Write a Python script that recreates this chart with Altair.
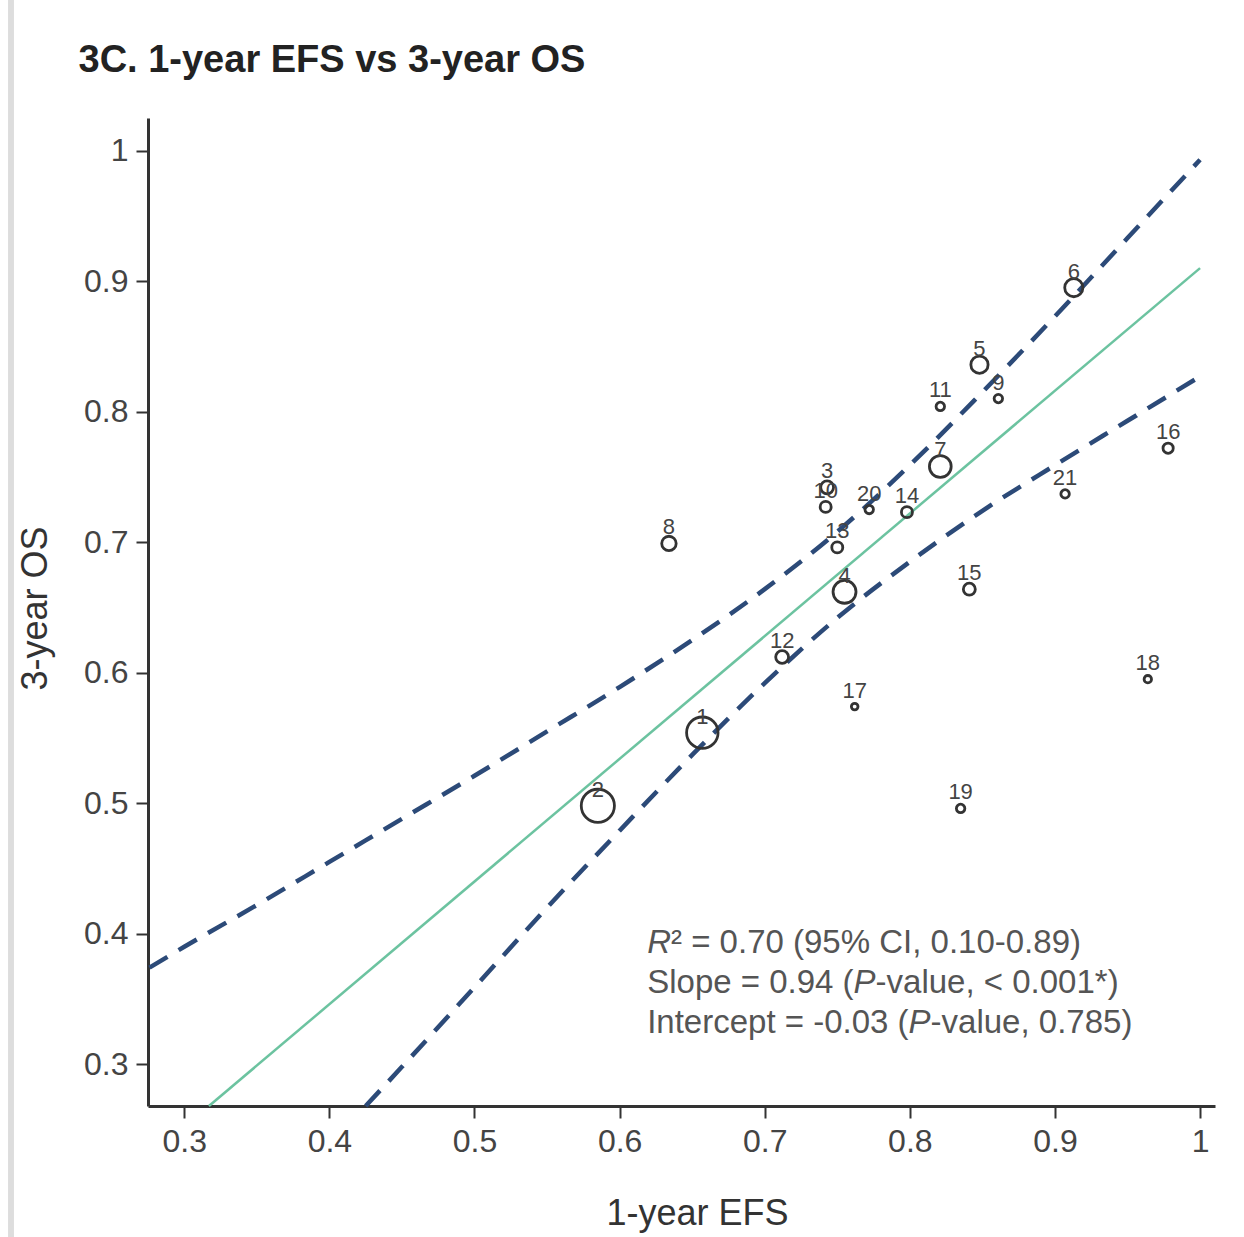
import altair as alt
import pandas as pd

# ---- data ----
study = [str(i) for i in range(1, 22)]
efs_1y = [0.657, 0.585, 0.743, 0.755, 0.848, 0.913, 0.821, 0.634, 0.861, 0.742, 0.821,
          0.712, 0.750, 0.798, 0.841, 0.978, 0.762, 0.964, 0.835, 0.772, 0.907]
os_3y = [0.554, 0.498, 0.742, 0.662, 0.836, 0.895, 0.758, 0.699, 0.810, 0.727, 0.804,
         0.612, 0.696, 0.723, 0.664, 0.772, 0.574, 0.595, 0.496, 0.725, 0.737]
weight = [90, 100, 15, 48, 27, 30, 43, 19, 6.5, 11, 6.5, 15, 11, 11, 13, 9.5, 4, 5, 6.5, 6.5, 6.5]

slope = 0.94
intercept = -0.03
fit_x = [0.317, 1.0]

ci_upper_x = [0.276, 0.30, 0.35, 0.40, 0.45, 0.50, 0.55, 0.60, 0.65, 0.70, 0.75, 0.80, 0.85, 0.90, 0.95, 1.00]
ci_upper_y = [0.374, 0.390, 0.422, 0.455, 0.488, 0.521, 0.555, 0.589, 0.625, 0.664, 0.708, 0.759, 0.815, 0.873, 0.933, 0.993]
ci_lower_x = [0.425, 0.45, 0.50, 0.55, 0.60, 0.65, 0.70, 0.75, 0.80, 0.85, 0.90, 0.95, 1.00]
ci_lower_y = [0.268, 0.298, 0.359, 0.420, 0.479, 0.537, 0.592, 0.642, 0.685, 0.724, 0.759, 0.793, 0.827]

x_ticks = [0.3, 0.4, 0.5, 0.6, 0.7, 0.8, 0.9, 1.0]
y_ticks = [0.3, 0.4, 0.5, 0.6, 0.7, 0.8, 0.9, 1.0]

ann_lines = [
    [("R", True), ("\u00b2 = 0.70 (95% CI, 0.10-0.89)", False)],
    [("Slope = 0.94 (", False), ("P", True), ("-value, < 0.001*)", False)],
    [("Intercept = -0.03 (", False), ("P", True), ("-value, 0.785)", False)],
]

# ---- tables ----
pts = pd.DataFrame({"study": study, "efs": efs_1y, "os": os_3y, "weight": weight})
fit = pd.DataFrame({"efs": fit_x, "os": [slope * v + intercept for v in fit_x]})
ci = pd.concat([
    pd.DataFrame({"efs": ci_upper_x, "os": ci_upper_y, "band": "upper"}),
    pd.DataFrame({"efs": ci_lower_x, "os": ci_lower_y, "band": "lower"}),
])

XD = [0.275, 1.0103]
YD = [0.268, 1.025]
xs = alt.Scale(domain=XD, nice=False, zero=False)
ys = alt.Scale(domain=YD, nice=False, zero=False)

fmt = "datum.value == 1 ? '1' : format(datum.value, '.1f')"
FONT = "Liberation Sans"

base = alt.Chart(pts)

ci_lines = alt.Chart(ci).mark_line(color="#2c4a78", strokeWidth=4.5, strokeDash=[21, 13],
                                   interpolate="monotone").encode(
    x=alt.X("efs:Q", scale=xs,
            axis=alt.Axis(values=x_ticks, labelExpr=fmt, title="1-year EFS",
                          titleX=549, titleY=107, titleBaseline="middle")),
    y=alt.Y("os:Q", scale=ys,
            axis=alt.Axis(values=y_ticks, labelExpr=fmt, title="3-year OS",
                          titleX=-113, titleY=490, titleBaseline="middle", titleAlign="center")),
    detail="band:N",
)

fit_line = alt.Chart(fit).mark_line(color="#6cc3a0", strokeWidth=2.5).encode(
    x=alt.X("efs:Q", scale=xs), y=alt.Y("os:Q", scale=ys))

circles = base.mark_point(shape="circle", filled=False, color="#333333", strokeWidth=2.8,
                          opacity=1).encode(
    x=alt.X("efs:Q", scale=xs), y=alt.Y("os:Q", scale=ys),
    size=alt.Size("weight:Q", scale=alt.Scale(domain=[0, 100], range=[0, 1100]), legend=None),
)

labels = base.mark_text(font=FONT, fontSize=22, color="#444444", dy=-16, baseline="middle").encode(
    x=alt.X("efs:Q", scale=xs), y=alt.Y("os:Q", scale=ys), text="study:N")

# annotation with italic pieces
W = {" ": .278, "(": .333, ")": .333, "*": .389, ",": .278, "-": .333, ".": .278, "<": .584,
     "=": .584, "%": .889, "C": .722, "I": .278, "P": .667, "R": .722, "S": .667, "a": .556,
     "c": .5, "e": .556, "l": .222, "n": .556, "o": .556, "p": .556, "r": .333, "t": .278,
     "u": .556, "v": .5, "\u00b2": .333}
for d in "0123456789":
    W[d] = .556

ANN_FS = 33
ann_x = 0.619
ann_y = [0.3928, 0.362, 0.3315]
ann_layers = []
for line, yv in zip(ann_lines, ann_y):
    off = 0.0
    for txt, ital in line:
        df = pd.DataFrame({"efs": [ann_x], "os": [yv], "t": [txt]})
        kw = dict(font=FONT, fontSize=ANN_FS, color="#555555", align="left", baseline="middle",
                  dx=off)
        if ital:
            kw["fontStyle"] = "italic"
        ann_layers.append(alt.Chart(df).mark_text(**kw).encode(
            x=alt.X("efs:Q", scale=xs), y=alt.Y("os:Q", scale=ys), text="t:N"))
        off += sum(W.get(ch, .556) for ch in txt) * ANN_FS

frame_bar = alt.Chart(pts).mark_rule(color="#dddddd", strokeWidth=5).encode(
    x=alt.value(-137), y=alt.value(-118), y2=alt.value(1119))

chart = alt.layer(frame_bar, ci_lines, fit_line, circles, labels, *ann_layers).properties(
    width=1067, height=988,
    title=alt.TitleParams("3C. 1-year EFS vs 3-year OS", anchor="start", fontSize=38,
                          fontWeight="bold", font=FONT, color="#222222", dx=70, dy=122,
                          offset=40),
    autosize=alt.AutoSizeParams(type="none"),
    padding={"left": 148, "top": 118, "right": 29, "bottom": 131},
).configure(background="white").configure_view(strokeWidth=0).configure_axis(
    grid=False, domainColor="#333333", domainWidth=3, tickColor="#333333", tickWidth=2,
    tickSize=12, labelFontSize=32, labelColor="#444444", labelFont=FONT, labelPadding=8,
    titleFont=FONT, titleFontSize=36, titleFontWeight="normal", titleColor="#333333",
)

chart.save("out.html", embed_options={"renderer": "svg", "actions": False})
